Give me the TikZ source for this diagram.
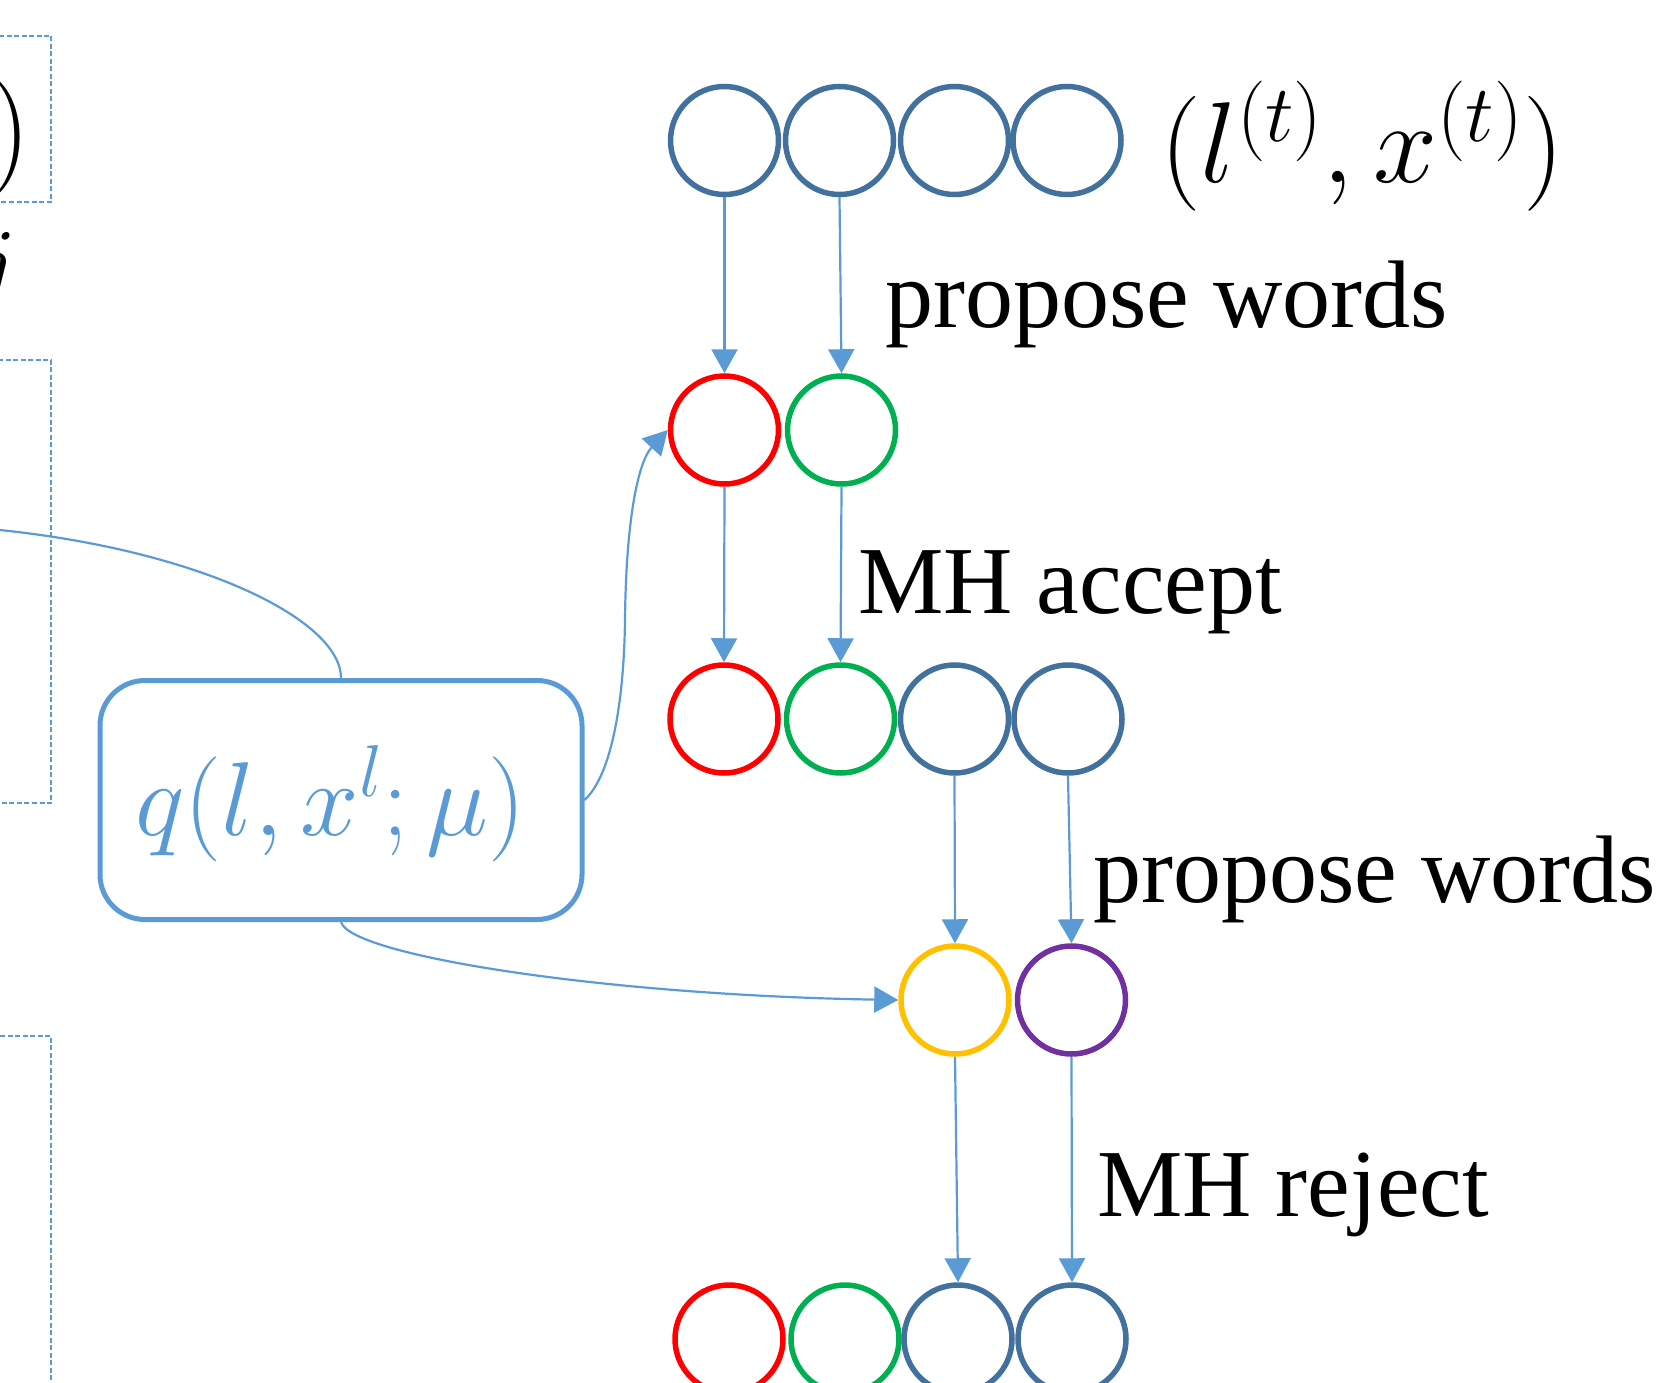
\documentclass[tikz,border=0pt]{standalone}
\usepackage{fix-cm}
\usepackage{fontspec}
\setmainfont{Liberation Serif}
\usetikzlibrary{arrows.meta}
\definecolor{lblue}{HTML}{5B9BD5}
\definecolor{dblue}{HTML}{41719C}
\definecolor{cred}{HTML}{FF0000}
\definecolor{cgreen}{HTML}{00B050}
\definecolor{cyellow}{HTML}{FFC000}
\definecolor{cpurple}{HTML}{7030A0}
\begin{document}
\begin{tikzpicture}[x=1pt,y=-1pt,
  cnode/.style={circle, draw, line width=5.5pt, minimum size=108pt, inner sep=0pt},
  arr/.style={draw=lblue, line width=2.2pt, -{Triangle[length=24pt,width=26pt]}},
  curve/.style={draw=lblue, line width=2.2pt},
  lbl/.style={anchor=base west, inner sep=0pt, font=\fontsize{96}{100}\selectfont},
  dbox/.style={draw=lblue, line width=1.5pt, dash pattern=on 5pt off 2.5pt}]
\useasboundingbox (0,0) rectangle (1662,1383);
\clip (0,0) rectangle (1662,1383);

% dashed boxes at the left edge
\draw[dbox] (-20,36) rectangle (51,202);
\draw[dbox] (-20,360) rectangle (51,803);
\draw[dbox] (-20,1036) rectangle (51,1420);
\node[anchor=base east, inner sep=0pt, font=\fontsize{120}{120}\selectfont] (rparen) at (31,168) {$)$};
\node[anchor=base east, inner sep=0pt, font=\fontsize{96}{100}\selectfont] (jlab) at (17,295) {$j$};

% rounded box
\node[draw=lblue, line width=5pt, rounded corners=45pt, minimum width=482pt, minimum height=239pt, inner sep=0pt] (qbox) at (341,800) {};
\node[anchor=base west, inner sep=0pt, text=lblue, font=\fontsize{105}{110}\selectfont] (qtxt) at (135,835) {$q(l,x^l;\mu)$};

% row 1
\node[cnode, draw=dblue] (a1) at (724.5,140.5) {};
\node[cnode, draw=dblue] (a2) at (839.5,140.5) {};
\node[cnode, draw=dblue] (a3) at (954.5,140.5) {};
\node[cnode, draw=dblue] (a4) at (1067,140.5) {};
\node[anchor=base west, inner sep=0pt, font=\fontsize{115}{120}\selectfont] (state) at (1160,183) {$(l^{(t)},x^{(t)})$};
% row 2
\node[cnode, draw=cred] (b1) at (724.5,430) {};
\node[cnode, draw=cgreen] (b2) at (841.5,430) {};
% row 3
\node[cnode, draw=cred] (c1) at (724,719) {};
\node[cnode, draw=cgreen] (c2) at (840.5,719) {};
\node[cnode, draw=dblue] (c3) at (954.5,719) {};
\node[cnode, draw=dblue] (c4) at (1068,719) {};
% row 4
\node[cnode, draw=cyellow] (d3) at (955,1000) {};
\node[cnode, draw=cpurple] (d4) at (1071.5,1000) {};
% row 5
\node[cnode, draw=cred] (e1) at (729,1339) {};
\node[cnode, draw=cgreen] (e2) at (845,1339) {};
\node[cnode, draw=dblue] (e3) at (958,1339) {};
\node[cnode, draw=dblue] (e4) at (1072,1339) {};

% labels
\node[lbl] (pw1) at (885,327) {propose words};
\node[lbl] (mha) at (858,613) {MH accept};
\node[lbl] (pw2) at (1093,902) {propose words};
\node[lbl] (mhr) at (1097,1216) {MH reject};

% vertical arrows
\draw[arr] (a1.south) -- (b1.north);
\draw[arr] (a2.south) -- (b2.north);
\draw[arr] (b1.south) -- (c1.north);
\draw[arr] (b2.south) -- (c2.north);
\draw[arr] (c3.south) -- (d3.north);
\draw[arr] (c4.south) -- (d4.north);
\draw[arr] (d3.south) -- (e3.north);
\draw[arr] (d4.south) -- (e4.north);

% curved connectors
\coordinate (lend) at (-5,529.5);
\draw[curve] (qbox.north) .. controls (341,620) and (200,550) .. (lend);
\draw[arr] (qbox.east) .. controls (612,775) and (624,700) .. (625,620) .. controls (626,520) and (638,462) .. (b1.west);
\draw[arr] (qbox.south) .. controls (350,955) and (600,995) .. (d3.west);
\end{tikzpicture}
\end{document}
